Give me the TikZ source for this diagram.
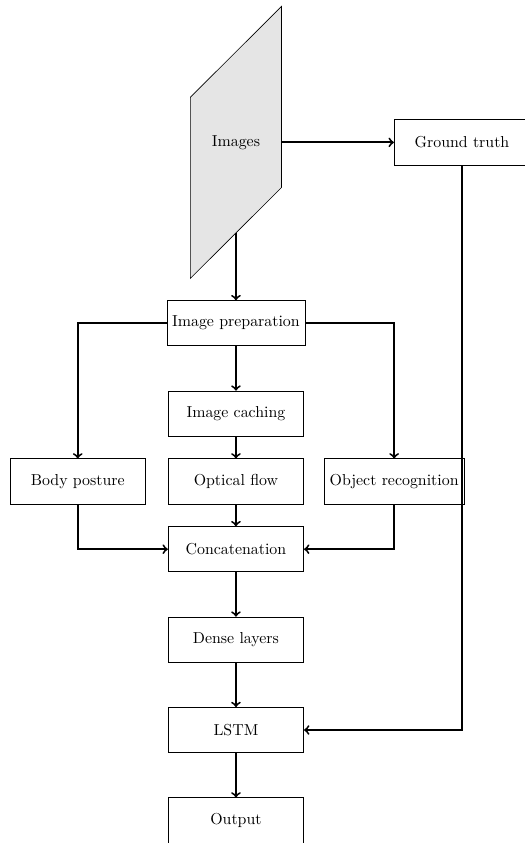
\documentclass[tikz,border=0pt]{standalone}
\usepackage{tikz}
\usetikzlibrary{calc, positioning, backgrounds}
\tikzset{
    boxnode/.style = {draw, rectangle, fill=none, minimum width=3cm, minimum height=1cm,
      inner sep=0.3333em, node distance=0em, font=\normalsize},
    slantnode/.style = {draw=none, fill=none, rectangle, minimum width=2cm, minimum height=6cm,
      inner sep=0em, node distance=0em, font=\normalsize},
    connect/.style = {black, ->, very thick}
}

\begin{document}
\begin{tikzpicture}
    \useasboundingbox (-5.22,-11.5) rectangle (6.39,7.15);
    \node [slantnode, name=Images] at (0,4) {Images};
    \begin{scope}[on background layer]
        \draw [fill=gray!20] (Images.south west) -- ($(Images.east)+(0,-1)$) -- (Images.north east)
            -- ($(Images.west)+(0,1)$) -- cycle;
    \end{scope}
    \node [boxnode, name=Truth, right of=Images, xshift=5cm] {Ground truth};
    \node [boxnode, name=Prep] at (0,0) {Image preparation};
    \node [boxnode, name=Caching, below of=Prep, yshift=-2cm] {Image caching};
    \node [boxnode, name=Optical, below of=Prep, yshift=-3.5cm] {Optical flow};
    \node [boxnode, name=Posture, left of=Optical, xshift=-3.5cm] {Body posture};
    \node [boxnode, name=Object, right of=Optical, xshift=3.5cm] {Object recognition};
    \node [boxnode, name=Concat, below of=Optical, yshift=-1.5cm] {Concatenation};
    \node [boxnode, name=Dense, below of=Concat, yshift=-2cm] {Dense layers};
    \node [boxnode, name=LSTM, below of=Dense, yshift=-2cm] {LSTM};
    \node [boxnode, name=Output, below of=LSTM, yshift=-2cm] {Output};

    \draw [connect] ($(Images.south)+(0,1)$) -- (Prep);
    \draw [connect] (Images.east) -- (Truth);
    \draw [connect] (Prep) -- (Caching);
    \draw [connect] (Caching) -- (Optical);
    \draw [connect] (Prep.west) -| (Posture);
    \draw [connect] (Prep.east) -| (Object);
    \draw [connect] (Optical) -- (Concat);
    \draw [connect] (Posture) |- (Concat);
    \draw [connect] (Object) |- (Concat);
    \draw [connect] (Concat) -- (Dense);
    \draw [connect] (Dense) -- (LSTM);
    \draw [connect] (Truth) |- (LSTM);
    \draw [connect] (LSTM) -- (Output);
\end{tikzpicture}
\end{document}
